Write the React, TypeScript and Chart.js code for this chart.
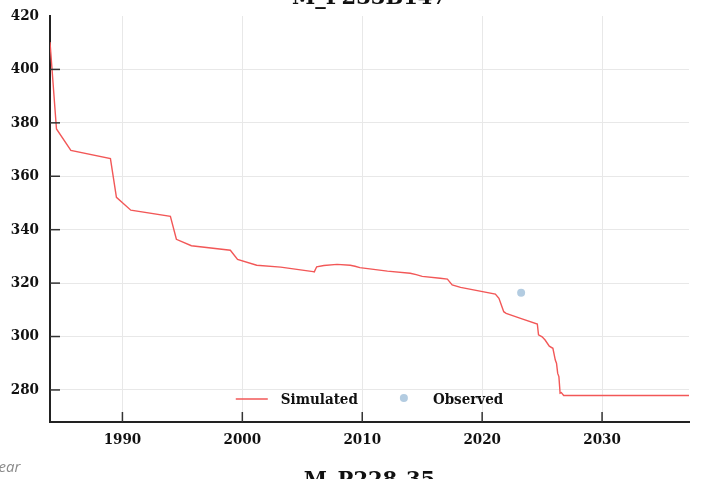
import React, { useEffect, useRef } from "react";
import { Chart, registerables } from "chart.js";

Chart.register(...registerables);

const chartTitle = "M_P233B147";
const nextTitle = "M_P228-35";
const xAxisTitleFragment = "Year";

const simYears = [
  1983.96, 1984.5, 1985.7, 1989.0, 1989.5, 1990.7, 1994.0, 1994.5, 1995.75, 1999.0,
  1999.6, 2001.2, 2003.2, 2005.9, 2006.0, 2006.2, 2006.8, 2007.9, 2009.0, 2009.4,
  2009.8, 2012.1, 2014.0, 2014.5, 2015.0, 2016.5, 2017.1, 2017.5, 2018.2, 2021.1,
  2021.4, 2021.8, 2022.0, 2023.2, 2024.6, 2024.7, 2025.0, 2025.25, 2025.6, 2025.9,
  2026.1, 2026.2, 2026.3, 2026.4, 2026.5, 2026.6, 2026.8, 2037.25,
];
const simValues = [
  410.2, 377.7, 369.7, 366.6, 352.1, 347.3, 345.0, 336.4, 334.0, 332.3,
  328.9, 326.7, 326.0, 324.3, 324.2, 326.1, 326.6, 327.0, 326.7, 326.3,
  325.8, 324.5, 323.7, 323.2, 322.5, 321.8, 321.5, 319.3, 318.4, 315.9,
  314.3, 309.3, 308.7, 306.8, 304.7, 300.6, 299.9, 298.7, 296.4, 295.6,
  291.2, 290.0, 286.2, 285.0, 278.8, 279.0, 277.9, 277.9,
];
const obsYears = [2023.25];
const obsValues = [316.4];

const xTicks = [1990, 2000, 2010, 2020, 2030];
const yTicks = [280, 300, 320, 340, 360, 380, 400, 420];
const xRange = [1983.96, 2037.25];
const yRange = [268, 420];

const seriesNames = ["Simulated", "Observed"];
const simColor = "#f25757";
const obsColor = "#b3cce1";

const FONT = "'DejaVu Serif Condensed', 'DejaVu Serif', serif";
const TITLE_FONT = "'DejaVu Serif', serif";

const innerTicks = {
  id: "innerTicks",
  afterDraw(chart: any) {
    const { ctx, chartArea, scales } = chart;
    ctx.save();
    ctx.strokeStyle = "#333";
    ctx.lineWidth = 1.5;
    for (const v of yTicks) {
      if (v === yRange[1]) continue;
      const y = scales.y.getPixelForValue(v);
      ctx.beginPath();
      ctx.moveTo(chartArea.left, y);
      ctx.lineTo(chartArea.left + 10, y);
      ctx.stroke();
    }
    for (const v of xTicks) {
      const x = scales.x.getPixelForValue(v);
      ctx.beginPath();
      ctx.moveTo(x, chartArea.bottom);
      ctx.lineTo(x, chartArea.bottom - 10);
      ctx.stroke();
    }
    ctx.restore();
  },
};

const insideLegend = {
  id: "insideLegend",
  afterDraw(chart: any) {
    const { ctx, chartArea } = chart;
    ctx.save();
    ctx.font = `bold 15px ${FONT}`;
    ctx.textBaseline = "middle";
    ctx.fillStyle = "#111";
    const sym = 32;
    const gap = 13;
    const spacing = 30;
    const ds = chart.data.datasets;
    const widths = ds.map((d: any) => ctx.measureText(d.label).width);
    const total = widths.reduce((a: number, w: number) => a + sym + gap + w, 0) + spacing * (ds.length - 1);
    let x = (chartArea.left + chartArea.right) / 2 - total / 2;
    const y = chartArea.bottom - 22;
    ds.forEach((d: any, i: number) => {
      if (d.showLine) {
        ctx.strokeStyle = d.borderColor;
        ctx.lineWidth = 1.4;
        ctx.beginPath();
        ctx.moveTo(x, y - 1);
        ctx.lineTo(x + sym, y - 1);
        ctx.stroke();
      } else {
        ctx.fillStyle = d.backgroundColor;
        ctx.beginPath();
        ctx.arc(x + sym / 2, y - 2, 4, 0, Math.PI * 2);
        ctx.fill();
      }
      ctx.fillStyle = "#111";
      ctx.fillText(d.label, x + sym + gap, y);
      x += sym + gap + widths[i] + spacing;
    });
    ctx.restore();
  },
};

export default function App() {
  const canvasRef = useRef<HTMLCanvasElement | null>(null);

  useEffect(() => {
    document.body.style.margin = "0";
    const canvas = canvasRef.current;
    if (!canvas) return;
    const chart = new Chart(canvas, {
      type: "scatter",
      data: {
        datasets: [
          {
            label: seriesNames[0],
            data: simYears.map((x, i) => ({ x, y: simValues[i] })),
            showLine: true,
            borderColor: simColor,
            backgroundColor: simColor,
            borderWidth: 1.4,
            pointRadius: 0,
            tension: 0,
          },
          {
            label: seriesNames[1],
            data: obsYears.map((x, i) => ({ x, y: obsValues[i] })),
            showLine: false,
            borderColor: obsColor,
            backgroundColor: obsColor,
            pointRadius: 4,
            pointBorderWidth: 0,
          },
        ],
      },
      options: {
        animation: false,
        responsive: false,
        devicePixelRatio: 1,
        layout: { padding: { left: 0, top: 16, right: 13, bottom: 0 } },
        plugins: {
          legend: { display: false },
          tooltip: { enabled: false },
          title: { display: false },
        },
        scales: {
          x: {
            type: "linear",
            min: xRange[0],
            max: xRange[1],
            afterBuildTicks: (s: any) => {
              s.ticks = xTicks.map((v) => ({ value: v }));
            },
            afterFit: (s: any) => {
              s.height = 57;
              s.paddingLeft = 0;
              s.paddingRight = 0;
            },
            grid: { color: "#e8e8e8", lineWidth: 1, drawTicks: false },
            border: { display: true, color: "#222", width: 2 },
            ticks: {
              padding: 9,
              color: "#111",
              font: { family: FONT, size: 15, weight: "bold" },
              callback: (v: any) => String(v),
            },
          },
          y: {
            type: "linear",
            min: yRange[0],
            max: yRange[1],
            afterBuildTicks: (s: any) => {
              s.ticks = yTicks.map((v) => ({ value: v }));
            },
            afterFit: (s: any) => {
              s.width = 50;
              s.paddingTop = 0;
              s.paddingBottom = 0;
            },
            grid: {
              color: (c: any) => (c.tick && c.tick.value === yRange[1] ? "rgba(0,0,0,0)" : "#e8e8e8"),
              lineWidth: 1,
              drawTicks: false,
            },
            border: { display: true, color: "#222", width: 2 },
            ticks: {
              padding: 11,
              color: "#111",
              font: { family: FONT, size: 15, weight: "bold" },
              callback: (v: any) => String(v),
            },
          },
        },
      },
      plugins: [innerTicks, insideLegend],
    });
    return () => chart.destroy();
  }, []);

  return (
    <div style={{ position: "relative", width: 702, height: 479, overflow: "hidden", background: "#fff" }}>
      <canvas ref={canvasRef} width={702} height={479} style={{ position: "absolute", left: 0, top: 0 }} />
      <div
        style={{
          position: "absolute",
          left: 50,
          width: 639,
          top: -14,
          textAlign: "center",
          font: `bold 21px ${TITLE_FONT}`,
          lineHeight: "21px",
          color: "#111",
          whiteSpace: "nowrap",
        }}
      >
        {chartTitle}
      </div>
      <div
        style={{
          position: "absolute",
          left: 50,
          width: 639,
          top: 468,
          textAlign: "center",
          font: `bold 21px ${TITLE_FONT}`,
          lineHeight: "21px",
          color: "#111",
          whiteSpace: "nowrap",
        }}
      >
        {nextTitle}
      </div>
      <div
        style={{
          position: "absolute",
          left: -9,
          top: 456,
          font: `italic 15px 'Open Sans', sans-serif`,
          lineHeight: "20px",
          color: "#8a8a8a",
          whiteSpace: "nowrap",
        }}
      >
        {xAxisTitleFragment}
      </div>
    </div>
  );
}
